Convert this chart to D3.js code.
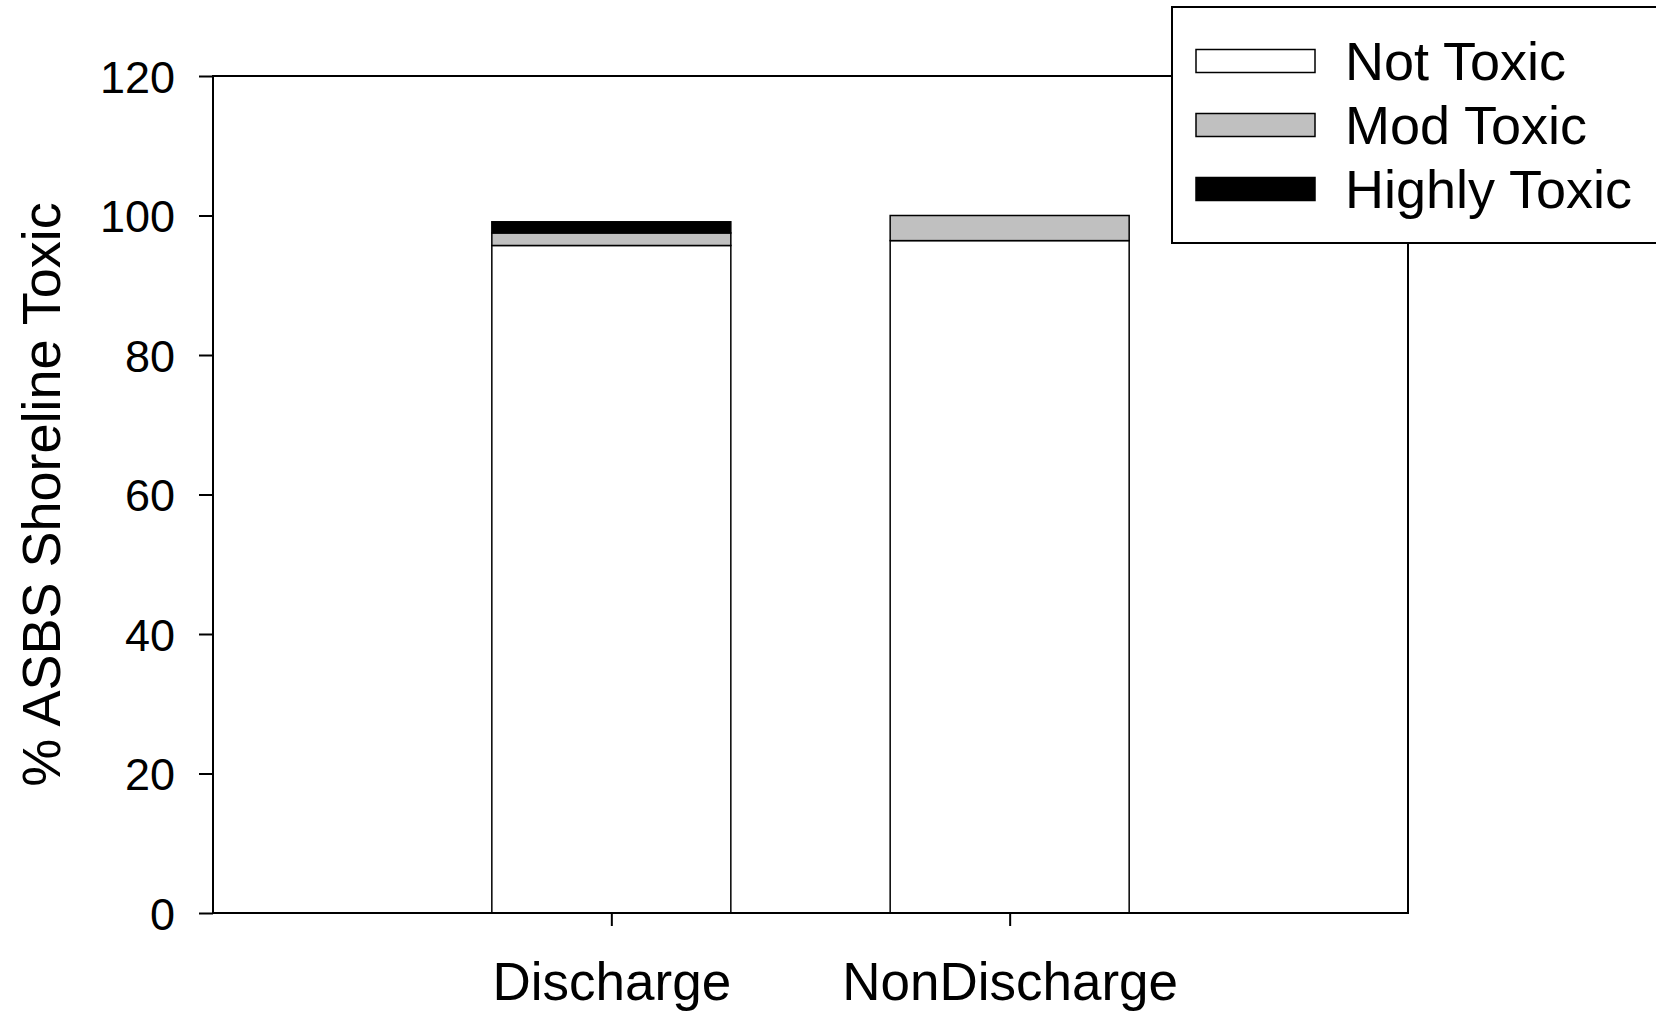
<!DOCTYPE html>
<html>
<head>
<meta charset="utf-8">
<script src="https://cdn.jsdelivr.net/npm/d3@7"></script>
<style>
  html, body { margin: 0; padding: 0; background: #fff; }
  svg { display: block; }
  text { font-family: "Liberation Sans", Arial, Helvetica, sans-serif; fill: #000; }
</style>
</head>
<body>
<svg id="chart" width="1656" height="1013"></svg>
<script>
const categories = ["Discharge", "NonDischarge"];
const seriesNames = ["Not Toxic", "Mod Toxic", "Highly Toxic"];
const notToxic = [95.7, 96.4];
const modToxic = [1.8, 3.6];
const highlyToxic = [1.6, 0];
const yTicks = [0, 20, 40, 60, 80, 100, 120];
const yTitle = "% ASBS Shoreline Toxic";
const colors = ["#ffffff", "#c0c0c0", "#000000"];

const rows = categories.map((c, i) => ({
  cat: c,
  "Not Toxic": notToxic[i],
  "Mod Toxic": modToxic[i],
  "Highly Toxic": highlyToxic[i]
}));

const svg = d3.select("#chart");
const pLeft = 213, pRight = 1408, pTop = 76, pBottom = 913;

const x = d3.scalePoint().domain(categories).range([pLeft, pRight]).padding(1);
const y = d3.scaleLinear().domain([0, 120]).range([pBottom, pTop]);
const color = d3.scaleOrdinal().domain(seriesNames).range(colors);
const barW = x.step() * 0.6;

const stacked = d3.stack().keys(seriesNames)(rows);

// bars
svg.append("g").selectAll("g")
  .data(stacked).join("g")
  .attr("fill", d => color(d.key))
  .selectAll("rect")
  .data(d => d.filter(s => s[1] - s[0] > 0))
  .join("rect")
  .attr("x", d => x(d.data.cat) - barW / 2)
  .attr("width", barW)
  .attr("y", d => y(d[1]))
  .attr("height", d => y(d[0]) - y(d[1]))
  .attr("stroke", "#000")
  .attr("stroke-width", 1.5);

// frame
svg.append("rect")
  .attr("x", pLeft).attr("y", pTop)
  .attr("width", pRight - pLeft).attr("height", pBottom - pTop)
  .attr("fill", "none").attr("stroke", "#000").attr("stroke-width", 2);

// y axis
const yAxis = svg.append("g")
  .attr("transform", `translate(${pLeft},0)`)
  .call(d3.axisLeft(y).tickValues(yTicks).tickSize(14).tickSizeOuter(0).tickPadding(24));
yAxis.select(".domain").remove();
yAxis.selectAll(".tick line").attr("stroke", "#000").attr("stroke-width", 2);
yAxis.selectAll(".tick text")
  .style("font-family", '"Liberation Sans", Arial, sans-serif')
  .style("font-size", "45px")
  .attr("fill", "#000")
  .attr("dy", "0.36em");

// x axis
const xAxis = svg.append("g")
  .attr("transform", `translate(0,${pBottom})`)
  .call(d3.axisBottom(x).tickSize(13).tickSizeOuter(0).tickPadding(36));
xAxis.select(".domain").remove();
xAxis.selectAll(".tick line").attr("stroke", "#000").attr("stroke-width", 2);
xAxis.selectAll(".tick text")
  .style("font-family", '"Liberation Sans", Arial, sans-serif')
  .style("font-size", "53px")
  .attr("fill", "#000");

// y title
svg.append("text")
  .attr("transform", `translate(60,${(pTop + pBottom) / 2}) rotate(-90)`)
  .attr("text-anchor", "middle")
  .style("font-size", "54px")
  .text(yTitle);

// legend
const lg = svg.append("g");
lg.append("rect")
  .attr("x", 1172).attr("y", 7)
  .attr("width", 500).attr("height", 236)
  .attr("fill", "#fff").attr("stroke", "#000").attr("stroke-width", 2);
const items = lg.selectAll("g.item").data(seriesNames).join("g")
  .attr("class", "item")
  .attr("transform", (d, i) => `translate(0,${61 + i * 64})`);
items.append("rect")
  .attr("x", 1196).attr("y", -11.5)
  .attr("width", 119).attr("height", 23)
  .attr("fill", d => color(d))
  .attr("stroke", "#000").attr("stroke-width", 1.5);
items.append("text")
  .attr("x", 1345).attr("y", 19)
  .style("font-size", "54px")
  .text(d => d);
</script>
</body>
</html>
